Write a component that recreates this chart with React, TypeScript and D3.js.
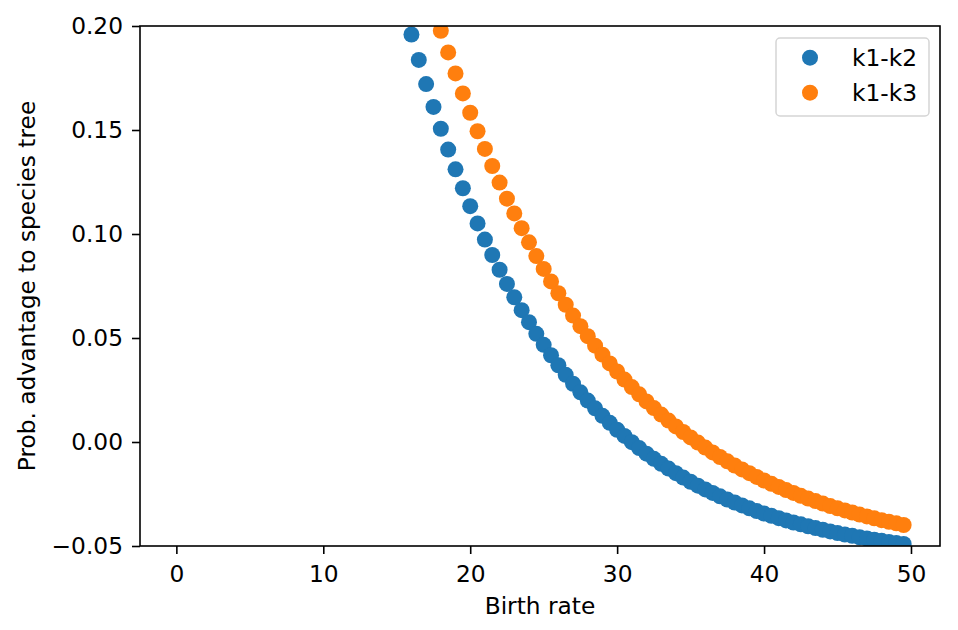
import React, { useEffect, useRef } from 'react';
import * as d3 from 'd3';

const birthRate = [
  16, 16.5, 17, 17.5, 18, 18.5, 19, 19.5, 20, 20.5, 21, 21.5, 22, 22.5, 23, 23.5,
  24, 24.5, 25, 25.5, 26, 26.5, 27, 27.5, 28, 28.5, 29, 29.5, 30, 30.5, 31, 31.5,
  32, 32.5, 33, 33.5, 34, 34.5, 35, 35.5, 36, 36.5, 37, 37.5, 38, 38.5, 39, 39.5,
  40, 40.5, 41, 41.5, 42, 42.5, 43, 43.5, 44, 44.5, 45, 45.5, 46, 46.5, 47, 47.5,
  48, 48.5, 49, 49.5,
];

// k1-k2, visible from birth rate 16
const probK1K2 = [
  0.1959, 0.1837, 0.1721, 0.1611, 0.1506, 0.1406, 0.1311, 0.1220, 0.1134, 0.1051,
  0.0973, 0.0899, 0.0828, 0.0760, 0.0696, 0.0634, 0.0576, 0.0520, 0.0467, 0.0417,
  0.0369, 0.0323, 0.0280, 0.0239, 0.0199, 0.0162, 0.0126, 0.0092, 0.0059, 0.0029,
  -0.0001, -0.0029, -0.0056, -0.0081, -0.0105, -0.0128, -0.0150, -0.0171, -0.0191, -0.0210,
  -0.0228, -0.0245, -0.0261, -0.0277, -0.0291, -0.0305, -0.0319, -0.0332, -0.0344, -0.0355,
  -0.0366, -0.0377, -0.0387, -0.0396, -0.0405, -0.0414, -0.0422, -0.0430, -0.0438, -0.0445,
  -0.0451, -0.0458, -0.0464, -0.0470, -0.0475, -0.0481, -0.0486, -0.0490,
];

// k1-k3, visible from birth rate 18
const probK1K3 = [
  0.1977, 0.1873, 0.1772, 0.1676, 0.1583, 0.1494, 0.1409, 0.1327, 0.1247, 0.1170,
  0.1099, 0.1028, 0.0960, 0.0894, 0.0832, 0.0772, 0.0715, 0.0660, 0.0608, 0.0557,
  0.0509, 0.0463, 0.0420, 0.0378, 0.0339, 0.0300, 0.0264, 0.0229, 0.0195, 0.0163,
  0.0132, 0.0103, 0.0075, 0.0048, 0.0022, -0.0003, -0.0027, -0.0050, -0.0072, -0.0093,
  -0.0113, -0.0132, -0.0150, -0.0168, -0.0185, -0.0201, -0.0216, -0.0231, -0.0245, -0.0259,
  -0.0272, -0.0284, -0.0296, -0.0308, -0.0319, -0.0329, -0.0339, -0.0349, -0.0358, -0.0367,
  -0.0376, -0.0384, -0.0391, -0.0399,
];

const xTicks = [0, 10, 20, 30, 40, 50];
const yTicks = [-0.05, 0, 0.05, 0.1, 0.15, 0.2];

const seriesNames = ['k1-k2', 'k1-k3'];
const COLORS = ['#1f77b4', '#ff7f0e'];

const WIDTH = 958;
const HEIGHT = 630;
const FONT = '"DejaVu Sans", sans-serif';
const FONT_SIZE = '23.3px';

const App: React.FC = () => {
  const svgRef = useRef<SVGSVGElement>(null);

  useEffect(() => {
    if (!svgRef.current) return;

    const margin = { top: 26, right: 18, bottom: 84, left: 140 };
    const x0 = margin.left;
    const x1 = WIDTH - margin.right;
    const y0 = HEIGHT - margin.bottom;
    const y1 = margin.top;

    d3.select(svgRef.current).selectAll('*').remove();
    const svg = d3.select(svgRef.current);

    const xScale = d3.scaleLinear().domain([-2.475, 51.975]).range([x0, x1]);
    const yScale = d3.scaleLinear().domain([-0.05, 0.2]).range([y0, y1]);

    svg.append('defs')
      .append('clipPath')
      .attr('id', 'plot-clip')
      .append('rect')
      .attr('x', x0)
      .attr('y', y1)
      .attr('width', x1 - x0)
      .attr('height', y0 - y1);

    const series = [
      { name: seriesNames[0], xs: birthRate, ys: probK1K2 },
      { name: seriesNames[1], xs: birthRate.slice(4), ys: probK1K3 },
    ];

    // Points
    const plot = svg.append('g').attr('clip-path', 'url(#plot-clip)');
    series.forEach((s, i) => {
      plot.append('g')
        .selectAll('circle')
        .data(s.ys.map((v, j) => [s.xs[j], v]))
        .enter()
        .append('circle')
        .attr('cx', d => xScale(d[0]))
        .attr('cy', d => yScale(d[1]))
        .attr('r', 8)
        .attr('fill', COLORS[i]);
    });

    // Axes
    const xAxis = svg.append('g')
      .attr('transform', `translate(0,${y0})`)
      .call(d3.axisBottom(xScale).tickValues(xTicks).tickSize(8).tickPadding(11).tickFormat(d3.format('d')));
    xAxis.select('.domain').remove();

    const yAxis = svg.append('g')
      .attr('transform', `translate(${x0},0)`)
      .call(d3.axisLeft(yScale).tickValues(yTicks).tickSize(8).tickPadding(9).tickFormat(d3.format('.2f')));
    yAxis.select('.domain').remove();

    svg.selectAll('.tick line').attr('stroke', '#000').attr('stroke-width', 1.6);
    svg.selectAll('.tick text')
      .attr('fill', '#000')
      .style('font-family', FONT)
      .style('font-size', FONT_SIZE);

    // Frame
    svg.append('rect')
      .attr('x', x0)
      .attr('y', y1)
      .attr('width', x1 - x0)
      .attr('height', y0 - y1)
      .attr('fill', 'none')
      .attr('stroke', '#000')
      .attr('stroke-width', 1.6);

    // Axis labels
    svg.append('text')
      .attr('x', (x0 + x1) / 2)
      .attr('y', 614)
      .attr('text-anchor', 'middle')
      .style('font-family', FONT)
      .style('font-size', FONT_SIZE)
      .text('Birth rate');

    svg.append('text')
      .attr('transform', `translate(35,${(y0 + y1) / 2}) rotate(-90)`)
      .attr('text-anchor', 'middle')
      .style('font-family', FONT)
      .style('font-size', FONT_SIZE)
      .text('Prob. advantage to species tree');

    // Legend
    const legend = svg.append('g').attr('transform', 'translate(776,38)');
    legend.append('rect')
      .attr('width', 153)
      .attr('height', 78)
      .attr('rx', 4)
      .attr('fill', '#fff')
      .attr('fill-opacity', 0.8)
      .attr('stroke', '#d5d5d5')
      .attr('stroke-width', 1.5);

    series.forEach((s, i) => {
      const row = legend.append('g').attr('transform', `translate(0,${19.7 + i * 35})`);
      row.append('circle')
        .attr('cx', 34)
        .attr('cy', 0)
        .attr('r', 8)
        .attr('fill', COLORS[i]);
      row.append('text')
        .attr('x', 76)
        .attr('y', 0)
        .attr('dy', '0.36em')
        .style('font-family', FONT)
        .style('font-size', FONT_SIZE)
        .text(s.name);
    });
  }, []);

  return (
    <svg
      ref={svgRef}
      width={WIDTH}
      height={HEIGHT}
      style={{ position: 'absolute', left: 0, top: 0, background: '#fff' }}
    />
  );
};

export default App;
